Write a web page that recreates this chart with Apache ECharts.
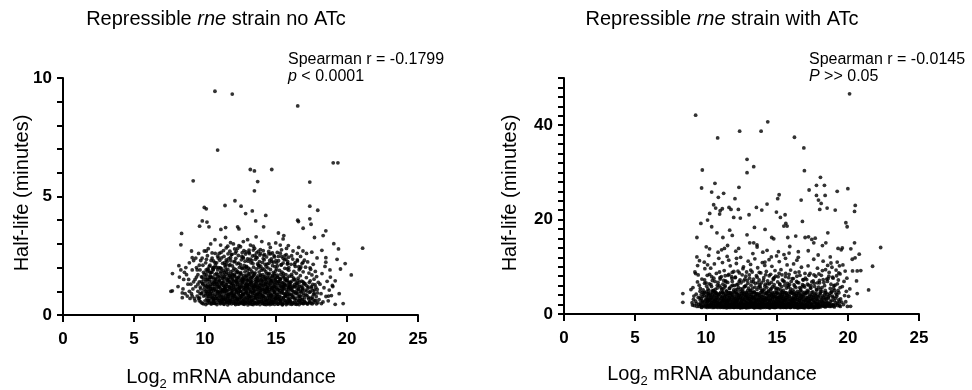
<!DOCTYPE html>
<html>
<head>
<meta charset="utf-8">
<script src="https://cdn.jsdelivr.net/npm/echarts@6/dist/echarts.min.js"></script>
<style>html,body{margin:0;padding:0;background:#fff}#c{width:972px;height:390px}</style>
</head>
<body>
<div id="c"></div>
<script>
// ---- Data: Log2 mRNA abundance (x) vs half-life in minutes (y) ----
const noAtcTitle = "Repressible rne strain no ATc";
const atcTitle = "Repressible rne strain with ATc";
const xTicks = [0, 5, 10, 15, 20, 25];
const noAtcYTicks = [0, 5, 10];
const atcYTicks = [0, 20, 40];
const noAtcStats = ["Spearman r = -0.1799", "p < 0.0001"];
const atcStats = ["Spearman r = -0.0145", "P >> 0.05"];

const noAtcCore = [
[8.1,1.2],[8.3,1.9],[8.5,1.5],[8.6,0.9],[8.7,1.7],[8.8,1.3],[8.9,2.2],[8.2,1.6],[8.45,1.1],[8.65,2.0],[8.75,0.8],[8.9,1.0],[8.55,1.8],[8.85,1.5],[8.95,0.7],
[9.0,1.3],[9.05,0.9],[9.1,1.9],[9.15,1.1],[9.2,2.3],[9.25,0.7],[9.3,1.5],[9.35,1.2],[9.4,2.0],[9.45,0.8],
[9.5,1.7],[9.5,1.0],[9.55,2.6],[9.6,1.4],[9.6,0.6],[9.65,1.9],[9.7,1.1],[9.7,2.3],[9.75,0.9],[9.8,1.6],
[9.8,0.5],[9.85,2.1],[9.85,1.3],[9.9,0.8],[9.9,1.8],[9.95,1.2],[9.95,2.7],[9.3,0.6],[9.4,1.6],[9.6,2.1],
[9.2,1.4],[9.45,1.9],[9.75,1.4],[9.55,0.7],[9.35,2.4],[9.65,0.9],[9.9,1.5],[9.1,0.8],[9.8,2.4],[9.5,1.3],
[10.0,0.6],[10.02,1.4],[10.05,2.2],[10.07,0.9],[10.1,1.7],[10.12,1.1],[10.15,0.5],[10.17,2.5],[10.2,1.3],[10.22,0.8],
[10.25,1.9],[10.27,1.0],[10.3,0.6],[10.32,1.5],[10.35,2.1],[10.37,0.7],[10.4,1.2],[10.42,1.8],[10.45,0.5],[10.47,1.4],
[10.5,2.4],[10.52,0.9],[10.55,1.6],[10.57,1.1],[10.6,0.6],[10.62,2.0],[10.65,1.3],[10.67,0.8],[10.7,1.7],[10.72,2.6],
[10.75,1.0],[10.77,0.5],[10.8,1.5],[10.82,2.2],[10.85,0.7],[10.87,1.2],[10.9,1.9],[10.92,0.9],[10.95,1.4],[10.97,0.6],
[10.03,1.0],[10.08,1.9],[10.13,0.7],[10.18,1.5],[10.23,2.8],[10.28,1.2],[10.33,0.9],[10.38,1.6],[10.43,2.3],[10.48,0.8],
[10.53,1.3],[10.58,1.9],[10.63,0.5],[10.68,1.1],[10.73,2.1],[10.78,1.4],[10.83,0.8],[10.88,1.7],[10.93,2.4],[10.98,1.0],
[10.04,1.6],[10.14,1.2],[10.24,0.6],[10.34,1.8],[10.44,1.0],[10.54,2.0],[10.64,1.5],[10.74,0.7],[10.84,1.3],[10.94,2.0],
[10.09,2.7],[10.19,0.9],[10.29,1.6],[10.39,1.1],[10.49,1.8],[10.59,0.7],[10.69,1.4],[10.79,2.0],[10.89,1.0],[10.99,1.6],
[11.01,0.62],[11.03,1.48],[11.04,2.31],[11.06,0.95],[11.08,1.77],[11.09,1.12],[11.11,0.51],[11.13,2.64],[11.14,1.33],[11.16,0.84],
[11.18,1.95],[11.19,1.06],[11.21,0.58],[11.23,1.56],[11.24,2.18],[11.26,0.73],[11.28,1.24],[11.29,1.86],[11.31,0.47],[11.33,1.41],
[11.34,2.47],[11.36,0.92],[11.38,1.63],[11.39,1.15],[11.41,0.66],[11.43,2.03],[11.44,1.29],[11.46,0.81],[11.48,1.72],[11.49,2.83],
[11.51,1.02],[11.53,0.54],[11.54,1.51],[11.56,2.26],[11.58,0.71],[11.59,1.21],[11.61,1.92],[11.63,0.88],[11.64,1.44],[11.66,0.61],
[11.68,2.38],[11.69,1.08],[11.71,0.49],[11.73,1.67],[11.74,1.17],[11.76,2.12],[11.78,0.77],[11.79,1.36],[11.81,1.83],[11.83,0.56],
[11.84,1.26],[11.86,2.55],[11.88,0.94],[11.89,1.59],[11.91,1.03],[11.93,2.07],[11.94,0.68],[11.96,1.47],[11.98,1.88],[11.99,0.83],
[11.02,1.19],[11.07,0.79],[11.12,1.64],[11.17,2.41],[11.22,0.99],[11.27,1.53],[11.32,0.64],[11.37,2.21],[11.42,1.11],[11.47,0.53],
[11.52,1.81],[11.57,1.37],[11.62,2.58],[11.67,0.86],[11.72,1.49],[11.77,0.59],[11.82,2.29],[11.87,1.14],[11.92,1.69],[11.97,0.74],
[11.05,1.99],[11.15,0.69],[11.25,1.38],[11.35,1.79],[11.45,1.01],[11.55,0.76],[11.65,1.58],[11.75,2.69],[11.85,0.91],[11.95,1.31],
[11.1,2.95],[11.3,1.07],[11.5,2.14],[11.7,0.63],[11.9,1.73],
[12.01,0.57],[12.03,1.42],[12.05,2.24],[12.06,0.89],[12.08,1.71],[12.1,1.09],[12.11,0.48],[12.13,2.61],[12.15,1.28],[12.16,0.79],
[12.18,1.91],[12.2,1.04],[12.21,0.55],[12.23,1.54],[12.25,2.16],[12.26,0.72],[12.28,1.22],[12.3,1.84],[12.31,0.46],[12.33,1.39],
[12.35,2.51],[12.36,0.93],[12.38,1.61],[12.4,1.13],[12.41,0.65],[12.43,2.01],[12.45,1.27],[12.46,0.82],[12.48,1.74],[12.5,2.88],
[12.51,1.01],[12.53,0.52],[12.55,1.49],[12.56,2.33],[12.58,0.7],[12.6,1.19],[12.61,1.96],[12.63,0.87],[12.65,1.43],[12.66,0.6],
[12.68,2.44],[12.7,1.06],[12.71,0.47],[12.73,1.66],[12.75,1.16],[12.76,2.09],[12.78,0.76],[12.8,1.34],[12.81,1.82],[12.83,0.54],
[12.85,1.25],[12.86,2.57],[12.88,0.96],[12.9,1.57],[12.91,1.02],[12.93,2.05],[12.95,0.67],[12.96,1.46],[12.98,1.87],[12.99,0.84],
[12.02,1.18],[12.07,0.78],[12.12,1.62],[12.17,2.39],[12.22,0.98],[12.27,1.52],[12.32,0.63],[12.37,2.19],[12.42,1.12],[12.47,0.51],
[12.52,1.79],[12.57,1.35],[12.62,2.63],[12.67,0.85],[12.72,1.48],[12.77,0.58],[12.82,2.27],[12.87,1.13],[12.92,1.68],[12.97,0.73],
[12.04,1.97],[12.14,0.68],[12.24,1.37],[12.34,1.78],[12.44,1.0],[12.54,0.75],[12.64,1.56],[12.74,2.72],[12.84,0.9],[12.94,1.3],
[12.09,2.79],[12.19,1.44],[12.29,0.66],[12.39,2.93],[12.49,1.16],[12.59,2.47],[12.69,0.88],[12.79,1.97],[12.89,2.66],[12.99,1.23],
[13.01,0.53],[13.02,1.45],[13.04,2.27],[13.06,0.91],[13.07,1.74],[13.09,1.1],[13.11,0.49],[13.12,2.59],[13.14,1.3],[13.16,0.8],
[13.17,1.93],[13.19,1.05],[13.21,0.56],[13.22,1.55],[13.24,2.2],[13.26,0.74],[13.27,1.23],[13.29,1.85],[13.31,0.45],[13.32,1.4],
[13.34,2.49],[13.36,0.94],[13.37,1.62],[13.39,1.14],[13.41,0.64],[13.42,2.02],[13.44,1.28],[13.46,0.83],[13.47,1.73],[13.49,2.81],
[13.51,1.0],[13.52,0.52],[13.54,1.5],[13.56,2.35],[13.57,0.71],[13.59,1.2],[13.61,1.94],[13.62,0.86],[13.64,1.42],[13.66,0.59],
[13.67,2.42],[13.69,1.07],[13.71,0.48],[13.72,1.65],[13.74,1.17],[13.76,2.1],[13.77,0.77],[13.79,1.35],[13.81,1.81],[13.82,0.55],
[13.84,1.24],[13.86,2.53],[13.87,0.97],[13.89,1.58],[13.91,1.03],[13.92,2.06],[13.94,0.66],[13.96,1.47],[13.97,1.89],[13.99,0.82],
[13.03,1.17],[13.08,0.76],[13.13,1.63],[13.18,2.36],[13.23,0.97],[13.28,1.51],[13.33,0.62],[13.38,2.17],[13.43,1.11],[13.48,0.5],
[13.53,1.78],[13.58,1.33],[13.63,2.62],[13.68,0.84],[13.73,1.47],[13.78,0.57],[13.83,2.25],[13.88,1.12],[13.93,1.67],[13.98,0.72],
[13.05,1.98],[13.15,0.69],[13.25,1.36],[13.35,1.77],[13.45,0.99],[13.55,0.74],[13.65,1.55],[13.75,2.68],[13.85,0.89],[13.95,1.29],
[13.1,2.74],[13.2,1.41],[13.3,0.6],[13.4,2.9],[13.5,1.21],[13.6,2.44],[13.7,0.9],[13.8,2.0],[13.9,2.6],[13.0,1.25],
[14.01,0.55],[14.03,1.43],[14.04,2.22],[14.06,0.9],[14.08,1.7],[14.09,1.08],[14.11,0.47],[14.13,2.52],[14.14,1.27],[14.16,0.78],
[14.18,1.9],[14.19,1.03],[14.21,0.54],[14.23,1.53],[14.24,2.14],[14.26,0.73],[14.28,1.21],[14.29,1.83],[14.31,0.44],[14.33,1.38],
[14.34,2.45],[14.36,0.92],[14.38,1.6],[14.39,1.12],[14.41,0.63],[14.43,1.99],[14.44,1.26],[14.46,0.81],[14.48,1.72],[14.49,2.68],
[14.51,0.98],[14.53,0.5],[14.54,1.48],[14.56,2.3],[14.58,0.69],[14.59,1.18],[14.61,1.92],[14.63,0.85],[14.64,1.41],[14.66,0.58],
[14.68,2.37],[14.69,1.05],[14.71,0.46],[14.73,1.64],[14.74,1.15],[14.76,2.08],[14.78,0.75],[14.79,1.33],[14.81,1.8],[14.83,0.53],
[14.84,1.22],[14.86,2.5],[14.88,0.95],[14.89,1.56],[14.91,1.01],[14.93,2.04],[14.94,0.65],[14.96,1.45],[14.98,1.86],[14.99,0.8],
[14.02,1.16],[14.07,0.77],[14.12,1.61],[14.17,2.33],[14.22,0.96],[14.27,1.5],[14.32,0.61],[14.37,2.15],[14.42,1.1],[14.47,0.49],
[14.52,1.76],[14.57,1.32],[14.62,2.58],[14.67,0.83],[14.72,1.46],[14.77,0.56],[14.82,2.23],[14.87,1.11],[14.92,1.66],[14.97,0.71],
[14.05,1.96],[14.15,0.68],[14.25,1.34],[14.35,1.75],[14.45,0.98],[14.55,0.73],[14.65,1.54],[14.75,2.62],[14.85,0.88],[14.95,1.28],
[14.1,2.71],[14.3,1.09],[14.5,2.18],[14.7,0.62],[14.9,1.74],
[15.0,0.58],[15.03,1.4],[15.05,2.2],[15.07,0.88],[15.1,1.68],[15.12,1.07],[15.15,0.46],[15.17,2.47],[15.2,1.25],[15.22,0.77],
[15.25,1.88],[15.27,1.02],[15.3,0.52],[15.32,1.51],[15.35,2.11],[15.37,0.72],[15.4,1.2],[15.42,1.81],[15.45,0.43],[15.47,1.36],
[15.5,2.39],[15.52,0.91],[15.55,1.58],[15.57,1.11],[15.6,0.62],[15.62,1.97],[15.65,1.24],[15.67,0.8],[15.7,1.7],[15.72,2.55],
[15.75,0.97],[15.77,0.49],[15.8,1.46],[15.82,2.26],[15.85,0.68],[15.87,1.17],[15.9,1.89],[15.92,0.84],[15.95,1.39],[15.97,0.57],
[15.02,1.14],[15.08,0.75],[15.13,1.59],[15.18,2.29],[15.23,0.95],[15.28,1.49],[15.33,0.6],[15.38,2.12],[15.43,1.09],[15.48,0.48],
[15.53,1.74],[15.58,1.31],[15.63,2.5],[15.68,0.82],[15.73,1.44],[15.78,0.55],[15.83,2.18],[15.88,1.1],[15.93,1.64],[15.98,0.7],
[15.04,1.94],[15.14,0.67],[15.24,1.33],[15.34,1.72],[15.44,0.97],[15.54,0.72],[15.64,1.52],[15.74,2.81],[15.84,0.87],[15.94,1.27],
[15.09,2.64],[15.19,1.42],[15.29,0.64],[15.39,2.75],[15.49,1.19],[15.59,2.33],[15.69,0.89],[15.79,1.95],[15.89,2.44],[15.99,1.21],
[16.01,0.55],[16.03,1.37],[16.06,2.14],[16.08,0.86],[16.11,1.63],[16.13,1.04],[16.16,0.47],[16.18,2.36],[16.21,1.22],[16.23,0.76],
[16.26,1.84],[16.28,0.99],[16.31,0.53],[16.33,1.48],[16.36,2.05],[16.38,0.71],[16.41,1.18],[16.43,1.76],[16.46,0.45],[16.48,1.33],
[16.51,2.28],[16.53,0.9],[16.56,1.55],[16.58,1.08],[16.61,0.61],[16.63,1.91],[16.66,1.21],[16.68,0.79],[16.71,1.66],[16.73,2.47],
[16.76,0.95],[16.78,0.5],[16.81,1.43],[16.83,2.17],[16.86,0.67],[16.88,1.15],[16.91,1.82],[16.93,0.83],[16.96,1.35],[16.98,0.56],
[16.05,1.12],[16.15,0.74],[16.25,1.56],[16.35,2.21],[16.45,0.93],[16.55,1.45],[16.65,0.59],[16.75,2.03],[16.85,1.06],[16.95,0.48],
[16.1,1.71],[16.3,1.28],[16.5,2.6],[16.7,0.81],[16.9,1.4],
[17.02,0.57],[17.05,1.32],[17.08,2.02],[17.11,0.85],[17.14,1.58],[17.17,1.01],[17.2,0.49],[17.23,2.24],[17.26,1.19],[17.29,0.74],
[17.32,1.77],[17.35,0.96],[17.38,0.54],[17.41,1.44],[17.44,1.93],[17.47,0.7],[17.5,1.14],[17.53,1.69],[17.56,0.47],[17.59,1.29],
[17.62,2.14],[17.65,0.88],[17.68,1.51],[17.71,1.05],[17.74,0.6],[17.77,1.84],[17.8,1.17],[17.83,0.78],[17.86,1.62],[17.89,2.41],
[17.92,0.93],[17.95,0.52],[17.98,1.38],[17.15,2.6],[17.6,0.66],
[18.03,0.65],[18.1,1.3],[18.17,0.9],[18.24,1.75],[18.31,0.55],[18.38,1.15],[18.45,2.05],[18.52,0.78],[18.6,1.42],[18.68,0.6],
[18.75,1.05],[18.83,1.6],[18.9,0.82],[18.97,1.25],[18.2,0.48]
];

const noAtcDense = [
[9.62,0.72],[9.66,1.18],[9.71,0.55],[9.75,1.61],[9.79,0.94],[9.83,1.33],[9.88,0.47],[9.92,1.07],[9.96,1.72],[10.01,0.83],[10.04,1.25],[10.06,0.44],
[10.1,1.49],[10.13,0.98],[10.16,1.84],[10.19,0.62],[10.22,1.16],[10.25,0.79],[10.28,1.41],[10.31,0.51],[10.34,1.05],[10.36,1.67],[10.39,0.88],[10.41,1.29],
[10.44,0.46],[10.46,1.58],[10.49,0.74],[10.51,1.12],[10.54,0.57],[10.56,1.93],[10.59,1.02],[10.61,0.66],[10.64,1.37],[10.66,0.49],[10.69,1.21],[10.71,0.86],
[10.74,1.54],[10.76,0.61],[10.79,1.08],[10.81,1.76],[10.84,0.44],[10.86,1.31],[10.89,0.93],[10.91,1.62],[10.94,0.71],[10.96,1.17],[10.99,0.52],[11.02,1.44],
[11.04,0.83],[11.07,1.27],[11.09,0.47],[11.12,1.83],[11.15,0.97],[11.17,0.65],
[11.2,1.35],[11.22,0.55],[11.25,1.06],[11.27,1.69],[11.3,0.77],[11.32,1.22],[11.35,0.45],[11.37,0.99],[11.4,1.57],[11.42,0.68],[11.45,1.14],[11.47,1.9],
[11.5,0.58],[11.52,1.28],[11.55,0.89],[11.57,1.47],[11.6,0.43],[11.62,1.03],[11.65,1.73],[11.67,0.76],[11.7,1.19],[11.72,0.53],[11.75,1.39],[11.77,0.91],
[11.8,1.61],[11.82,0.64],[11.85,1.1],[11.87,0.47],[11.9,1.33],[11.92,0.82],[11.95,1.52],[11.97,1.01],
[12.0,0.5],[12.02,1.24],[12.05,0.85],[12.07,1.66],[12.1,0.6],[12.12,1.13],[12.15,0.44],[12.17,1.42],[12.2,0.95],[12.22,1.8],[12.25,0.69],[12.27,1.07],
[12.3,0.52],[12.32,1.3],[12.35,0.88],[12.37,1.59],[12.4,0.46],[12.42,1.17],[12.45,0.74],[12.47,1.45],[12.5,1.0],[12.52,0.56],[12.55,1.7],[12.57,0.81],
[12.6,1.23],[12.62,0.48],[12.65,1.36],[12.67,0.92],[12.7,1.55],[12.72,0.63],[12.75,1.09],[12.77,0.45],
[12.8,1.48],[12.82,0.71],[12.85,1.2],[12.87,0.5],[12.9,1.63],[12.92,0.97],[12.95,1.32],[12.97,0.59],[13.0,1.11],[13.02,0.43],[13.05,1.5],[13.07,0.84],
[13.1,1.27],[13.12,0.62],[13.15,1.74],[13.17,0.99],[13.2,0.47],[13.22,1.38],[13.25,0.79],[13.27,1.15],[13.3,0.55],[13.32,1.6],[13.35,0.9],[13.37,1.26],
[13.4,0.44],[13.42,1.04],[13.45,1.67],[13.47,0.73],[13.5,1.19],[13.52,0.51],[13.55,1.42],[13.57,0.86],
[13.6,1.3],[13.62,0.46],[13.65,1.08],[13.67,1.57],[13.7,0.68],[13.72,1.22],[13.75,0.53],[13.77,0.95],[13.8,1.46],[13.82,0.74],[13.85,1.14],[13.87,0.44],
[13.9,1.69],[13.92,0.87],[13.95,1.34],[13.97,0.58],[14.0,1.03],[14.02,1.52],[14.05,0.49],[14.07,1.25],[14.1,0.8],[14.12,1.41],[14.15,0.61],[14.17,1.1],
[14.2,0.45],[14.22,1.62],[14.25,0.93],[14.27,1.29],[14.3,0.56],[14.32,1.0],[14.35,1.49],[14.37,0.7],
[14.4,1.18],[14.42,0.47],[14.45,1.36],[14.47,0.83],[14.5,1.58],[14.52,0.6],[14.55,1.07],[14.57,0.44],[14.6,1.27],[14.62,0.9],[14.65,1.45],[14.67,0.55],
[14.7,1.13],[14.72,0.76],[14.75,1.66],[14.77,0.5],[14.8,1.02],[14.82,1.39],[14.85,0.64],[14.87,1.21],[14.9,0.45],[14.92,0.97],[14.95,1.51],[14.97,0.72],
[15.0,1.16],[15.02,0.52],[15.05,1.33],[15.07,0.86],[15.1,1.6],[15.12,0.46],[15.15,1.06],[15.17,0.68],
[15.2,1.4],[15.22,0.57],[15.25,1.12],[15.27,0.8],[15.3,1.54],[15.32,0.48],[15.35,1.23],[15.37,0.93],[15.4,0.62],[15.42,1.35],[15.45,0.45],[15.47,1.05],
[15.5,1.64],[15.52,0.73],[15.55,1.19],[15.57,0.51],[15.6,1.3],[15.62,0.87],[15.65,1.47],[15.67,0.6],[15.7,1.09],[15.72,0.44],[15.75,1.26],[15.77,0.78],
[15.8,1.56],[15.82,0.54],[15.85,1.0],[15.87,1.36],[15.9,0.66],[15.92,1.15],[15.95,0.47],[15.97,0.89],
[16.0,1.28],[16.03,0.58],[16.06,1.06],[16.09,0.45],[16.12,1.43],[16.15,0.82],[16.18,1.16],[16.21,0.52],[16.24,0.96],[16.27,1.5],[16.3,0.67],[16.33,1.2],
[16.36,0.46],[16.39,0.9],[16.42,1.35],[16.45,0.61],[16.48,1.04],[16.51,0.5],[16.54,1.27],[16.57,0.77],[16.6,1.12],[16.63,0.44],[16.66,1.39],[16.69,0.7],
[16.72,1.0],[16.75,0.54],[16.78,1.22],
[16.82,0.64],[16.86,1.1],[16.9,0.48],[16.94,0.93],[16.98,1.3],[17.02,0.72],[17.06,1.05],[17.1,0.51],[17.14,1.24],[17.18,0.83],[17.22,0.46],[17.26,1.13],
[17.3,0.68],[17.34,1.37],[17.38,0.57],[17.42,0.98],[17.46,0.49],[17.5,1.2],[17.55,0.76],[17.6,1.03],[17.65,0.53],[17.7,0.9],[17.75,1.28],[17.8,0.62],
[17.85,0.47],[17.9,1.08]
];

const noAtcUpper = [
[10.1,2.35],[10.3,2.05],[10.5,2.62],[10.7,2.21],[10.9,2.48],[11.1,1.98],[11.3,2.72],[11.5,2.32],[11.7,2.08],[11.9,2.56],[12.1,2.27],[12.3,2.81],
[12.5,2.12],[12.7,2.4],[12.9,2.02],[13.1,2.65],[13.3,2.3],[13.5,2.52],[13.7,2.16],[13.9,2.76],[14.1,2.38],[14.3,2.04],[14.5,2.58],[14.7,2.25],
[14.9,2.45],[15.1,2.07],[15.3,2.61],[15.5,2.19],[15.7,2.36],[15.9,2.0],[16.1,2.5],[16.3,2.13],[16.5,2.33],[16.7,1.96],[16.9,2.22],
[10.2,1.95],[10.6,2.28],[11.0,2.6],[11.4,2.11],[11.8,2.43],[12.2,2.69],[12.6,1.99],[13.0,2.37],[13.4,2.74],[13.8,2.09],[14.2,2.55],[14.6,2.85],
[15.0,2.29],[15.4,2.47],[15.8,2.15],[16.2,2.7],[16.6,2.04],[17.0,2.31],[17.4,1.99],[12.0,3.0],[13.2,2.95],[14.0,3.1],[11.6,2.9]
];

const noAtcOutliers = [
[10.70,9.44],[11.92,9.32],[16.53,8.82],[10.89,6.96],[19.03,6.42],[19.36,6.42],[13.19,6.14],[13.48,6.08],[14.70,6.14],[9.17,5.66],
[13.71,5.63],[13.48,5.24],[17.38,5.61],[12.11,4.82],[11.41,4.62],[9.95,4.54],[10.09,4.48],[12.54,4.59],[12.86,4.28],[13.33,4.39],
[14.28,4.20],[13.57,3.97],[17.38,4.59],[17.94,4.42],[17.38,4.06],[17.47,3.83],[16.53,4.00],[16.58,3.94],[16.91,3.66],[9.81,3.97],
[10.14,3.92],[10.28,3.72],[9.62,3.75],[8.35,3.44],[8.30,2.96],[11.12,3.61],[11.45,3.69],[12.30,3.72],[12.39,3.63],[14.13,3.72],
[15.17,3.46],[15.55,3.35],[17.71,3.27],[18.32,3.35],[18.51,3.55],[19.07,3.01],[19.40,2.79],[21.10,2.82],[19.87,2.17],[19.54,1.94],
[20.30,1.69],[19.17,1.44],[19.45,0.90],[19.73,0.48],[19.17,0.45],[18.51,2.42],[18.51,2.23],[18.23,2.73],[17.52,2.65],[10.70,3.18],
[11.45,3.27],[13.00,3.18],[15.87,2.93],[15.50,3.21],[14.98,3.04],[7.60,1.00],[7.70,1.02],[7.71,1.75],[8.16,2.08],[8.40,0.93],
[8.40,0.73],[9.10,2.42],[9.05,2.70],[16.6,2.85],[16.9,2.7],[12.7,3.1],[13.6,3.3],[14.5,3.0],[10.4,3.0],[11.8,3.05],
[15.3,2.95],[18.8,1.9],[19.0,1.2],[18.7,0.8],[19.3,2.35]
];

const atcCore = [
[9.02,2.4],[9.08,5.6],[9.12,3.1],[9.18,1.8],[9.22,8.9],[9.27,2.7],[9.31,4.2],[9.36,1.6],[9.4,6.8],[9.45,3.5],
[9.5,2.1],[9.54,11.3],[9.58,4.8],[9.63,1.9],[9.67,3.3],[9.71,7.4],[9.75,2.5],[9.8,5.1],[9.84,1.7],[9.88,3.9],
[9.92,9.6],[9.96,2.8],[9.15,3.8],[9.33,2.2],[9.52,6.1],[9.69,1.5],[9.85,4.4],[9.05,1.9],[9.6,2.9],[9.9,6.5],
[10.01,2.2],[10.03,4.7],[10.05,1.6],[10.07,3.4],[10.09,8.2],[10.11,2.6],[10.13,5.3],[10.15,1.9],[10.17,3.9],[10.19,12.4],
[10.21,2.9],[10.23,6.4],[10.25,1.5],[10.27,3.1],[10.29,4.4],[10.31,2.1],[10.33,9.7],[10.35,3.6],[10.37,1.7],[10.39,5.8],
[10.41,2.5],[10.43,4.1],[10.45,7.1],[10.47,1.8],[10.49,3.3],[10.51,2.3],[10.53,5.0],[10.55,1.4],[10.57,3.8],[10.59,10.6],
[10.61,2.7],[10.63,6.9],[10.65,1.6],[10.67,4.5],[10.69,3.0],[10.71,2.0],[10.73,8.6],[10.75,3.5],[10.77,1.5],[10.79,5.5],
[10.81,2.4],[10.83,4.0],[10.85,13.1],[10.87,1.9],[10.89,3.2],[10.91,2.2],[10.93,6.0],[10.95,1.7],[10.97,4.3],[10.99,7.7],
[10.1,3.0],[10.3,1.8],[10.5,4.9],[10.7,2.6],[10.9,11.8],
[11.01,2.0],[11.03,4.6],[11.04,1.5],[11.06,3.3],[11.08,7.9],[11.09,2.5],[11.11,5.2],[11.13,1.8],[11.14,3.7],[11.16,10.9],
[11.18,2.8],[11.19,6.3],[11.21,1.4],[11.23,3.0],[11.24,4.3],[11.26,2.1],[11.28,9.2],[11.29,3.5],[11.31,1.6],[11.33,5.7],
[11.34,2.4],[11.36,4.0],[11.38,7.0],[11.39,1.7],[11.41,3.2],[11.43,2.2],[11.44,4.9],[11.46,1.3],[11.48,3.7],[11.49,12.2],
[11.51,2.6],[11.53,6.7],[11.54,1.5],[11.56,4.4],[11.58,2.9],[11.59,1.9],[11.61,8.4],[11.63,3.4],[11.64,1.4],[11.66,5.4],
[11.68,2.3],[11.69,3.9],[11.71,10.2],[11.73,1.8],[11.74,3.1],[11.76,2.1],[11.78,5.9],[11.79,1.6],[11.81,4.2],[11.83,7.5],
[11.84,2.7],[11.86,1.5],[11.88,3.6],[11.89,6.1],[11.91,2.0],[11.93,4.7],[11.94,1.4],[11.96,9.0],[11.98,3.0],[11.99,2.4],
[11.1,13.6],[11.35,8.1],[11.6,11.4],[11.85,8.8],[11.45,2.8],
[12.01,1.9],[12.02,4.5],[12.04,1.5],[12.05,3.2],[12.07,7.8],[12.08,2.4],[12.1,5.1],[12.11,1.7],[12.13,3.6],[12.14,10.7],
[12.16,2.7],[12.17,6.2],[12.19,1.4],[12.2,2.9],[12.22,4.2],[12.23,2.0],[12.25,9.1],[12.26,3.4],[12.28,1.5],[12.29,5.6],
[12.31,2.3],[12.32,3.9],[12.34,6.9],[12.35,1.6],[12.37,3.1],[12.38,2.1],[12.4,4.8],[12.41,1.3],[12.43,3.6],[12.44,12.0],
[12.46,2.5],[12.47,6.6],[12.49,1.4],[12.5,4.3],[12.52,2.8],[12.53,1.8],[12.55,8.3],[12.56,3.3],[12.58,1.4],[12.59,5.3],
[12.61,2.2],[12.62,3.8],[12.64,10.0],[12.65,1.7],[12.67,3.0],[12.68,2.0],[12.7,5.8],[12.71,1.5],[12.73,4.1],[12.74,7.4],
[12.76,2.6],[12.77,1.4],[12.79,3.5],[12.8,6.0],[12.82,1.9],[12.83,4.6],[12.85,1.3],[12.86,8.9],[12.88,2.9],[12.89,2.3],
[12.91,3.7],[12.92,1.6],[12.94,5.0],[12.95,2.2],[12.97,11.2],[12.98,3.1],[12.3,13.9],[12.6,9.6],[12.9,7.1],[12.15,11.8],
[13.01,2.0],[13.02,4.4],[13.04,1.4],[13.05,3.3],[13.07,7.6],[13.08,2.5],[13.1,5.0],[13.11,1.8],[13.13,3.7],[13.14,10.5],
[13.16,2.6],[13.17,6.1],[13.19,1.5],[13.2,3.0],[13.22,4.1],[13.23,2.1],[13.25,8.9],[13.26,3.5],[13.28,1.6],[13.29,5.5],
[13.31,2.4],[13.32,3.8],[13.34,6.8],[13.35,1.5],[13.37,3.2],[13.38,2.2],[13.4,4.7],[13.41,1.3],[13.43,3.5],[13.44,11.7],
[13.46,2.4],[13.47,6.5],[13.49,1.5],[13.5,4.2],[13.52,2.7],[13.53,1.9],[13.55,8.1],[13.56,3.2],[13.58,1.4],[13.59,5.2],
[13.61,2.3],[13.62,3.9],[13.64,9.8],[13.65,1.6],[13.67,3.1],[13.68,2.0],[13.7,5.7],[13.71,1.4],[13.73,4.0],[13.74,7.2],
[13.76,2.7],[13.77,1.5],[13.79,3.4],[13.8,5.9],[13.82,2.0],[13.83,4.5],[13.85,1.3],[13.86,8.7],[13.88,2.8],[13.89,2.2],
[13.91,3.6],[13.92,1.7],[13.94,4.9],[13.95,2.3],[13.97,10.9],[13.98,3.0],[13.3,12.8],[13.6,14.2],[13.9,6.6],[13.15,9.3],
[14.01,1.9],[14.02,4.6],[14.04,1.5],[14.05,3.1],[14.07,7.7],[14.08,2.4],[14.1,5.2],[14.11,1.7],[14.13,3.5],[14.14,10.3],
[14.16,2.8],[14.17,6.3],[14.19,1.4],[14.2,2.9],[14.22,4.3],[14.23,2.0],[14.25,9.0],[14.26,3.3],[14.28,1.5],[14.29,5.6],
[14.31,2.2],[14.32,4.0],[14.34,7.0],[14.35,1.6],[14.37,3.0],[14.38,2.1],[14.4,4.8],[14.41,1.4],[14.43,3.7],[14.44,11.5],
[14.46,2.5],[14.47,6.4],[14.49,1.3],[14.5,4.4],[14.52,2.9],[14.53,1.8],[14.55,8.4],[14.56,3.4],[14.58,1.5],[14.59,5.4],
[14.61,2.3],[14.62,3.8],[14.64,10.1],[14.65,1.7],[14.67,3.2],[14.68,2.1],[14.7,5.8],[14.71,1.5],[14.73,4.2],[14.74,7.5],
[14.76,2.6],[14.77,1.4],[14.79,3.6],[14.8,6.2],[14.82,1.9],[14.83,4.6],[14.85,1.4],[14.86,9.2],[14.88,2.8],[14.89,2.4],
[14.91,3.7],[14.92,1.6],[14.94,5.1],[14.95,2.1],[14.97,12.3],[14.98,3.2],[14.3,13.5],[14.6,12.1],[14.9,8.0],[14.15,11.0],
[15.01,2.1],[15.03,4.5],[15.04,1.5],[15.06,3.4],[15.08,7.9],[15.09,2.6],[15.11,5.3],[15.13,1.8],[15.14,3.8],[15.16,11.1],
[15.18,2.7],[15.19,6.4],[15.21,1.4],[15.23,3.0],[15.24,4.4],[15.26,2.0],[15.28,9.4],[15.29,3.6],[15.31,1.6],[15.33,5.8],
[15.34,2.4],[15.36,4.1],[15.38,7.2],[15.39,1.6],[15.41,3.3],[15.43,2.2],[15.44,5.0],[15.46,1.4],[15.48,3.7],[15.49,12.6],
[15.51,2.6],[15.53,6.8],[15.54,1.5],[15.56,4.5],[15.58,3.0],[15.59,1.9],[15.61,8.6],[15.63,3.5],[15.64,1.4],[15.66,5.5],
[15.68,2.3],[15.69,4.0],[15.71,10.4],[15.73,1.8],[15.74,3.1],[15.76,2.1],[15.78,6.0],[15.79,1.6],[15.81,4.3],[15.83,7.7],
[15.84,2.7],[15.86,1.5],[15.88,3.7],[15.89,6.2],[15.91,2.0],[15.93,4.8],[15.94,1.4],[15.96,9.3],[15.98,3.1],[15.99,2.5],
[15.1,13.2],[15.35,8.3],[15.6,11.8],[15.85,12.9],[15.45,2.9],
[16.01,2.0],[16.03,4.4],[16.05,1.5],[16.06,3.2],[16.08,7.5],[16.1,2.5],[16.12,5.1],[16.13,1.7],[16.15,3.6],[16.17,10.6],
[16.18,2.7],[16.2,6.2],[16.22,1.4],[16.23,2.9],[16.25,4.2],[16.27,2.0],[16.28,8.8],[16.3,3.4],[16.32,1.5],[16.33,5.6],
[16.35,2.3],[16.37,3.9],[16.38,6.9],[16.4,1.6],[16.42,3.1],[16.43,2.1],[16.45,4.8],[16.47,1.3],[16.48,3.6],[16.5,12.0],
[16.52,2.5],[16.53,6.6],[16.55,1.4],[16.57,4.3],[16.58,2.8],[16.6,1.8],[16.62,8.2],[16.63,3.3],[16.65,1.4],[16.67,5.3],
[16.68,2.2],[16.7,3.8],[16.72,9.9],[16.73,1.7],[16.75,3.0],[16.77,2.0],[16.78,5.8],[16.8,1.5],[16.82,4.1],[16.83,7.3],
[16.85,2.6],[16.87,1.4],[16.88,3.5],[16.9,6.0],[16.92,1.9],[16.93,4.6],[16.95,1.3],[16.97,8.6],[16.98,2.9],[16.4,11.4],
[17.01,1.9],[17.03,4.3],[17.05,1.5],[17.07,3.1],[17.09,7.3],[17.11,2.4],[17.13,5.0],[17.15,1.7],[17.17,3.5],[17.19,10.2],
[17.21,2.6],[17.23,6.1],[17.25,1.4],[17.27,2.8],[17.29,4.1],[17.31,2.0],[17.33,8.6],[17.35,3.3],[17.37,1.5],[17.39,5.5],
[17.41,2.2],[17.43,3.8],[17.45,6.8],[17.47,1.6],[17.49,3.0],[17.51,2.1],[17.53,4.7],[17.55,1.3],[17.57,3.5],[17.59,11.6],
[17.61,2.4],[17.63,6.5],[17.65,1.4],[17.67,4.2],[17.69,2.7],[17.71,1.8],[17.73,8.0],[17.75,3.2],[17.77,1.4],[17.79,5.2],
[17.81,2.2],[17.83,3.7],[17.85,9.7],[17.87,1.7],[17.89,2.9],[17.91,2.0],[17.93,5.7],[17.95,1.5],[17.97,4.0],[17.99,7.1],
[18.02,2.3],[18.05,4.6],[18.07,1.5],[18.1,3.4],[18.12,8.2],[18.15,2.7],[18.17,5.6],[18.2,1.8],[18.22,3.8],[18.25,11.2],
[18.27,2.5],[18.3,6.7],[18.32,1.6],[18.35,3.1],[18.37,4.5],[18.4,2.1],[18.42,9.4],[18.45,3.6],[18.47,1.7],[18.5,7.4],
[18.52,2.4],[18.55,4.2],[18.57,10.3],[18.6,1.9],[18.62,3.3],[18.65,2.2],[18.67,8.8],[18.7,1.6],[18.72,3.9],[18.75,12.1],
[18.77,2.6],[18.8,6.3],[18.82,1.8],[18.85,4.8],[18.87,9.9],[18.9,2.0],[18.92,7.8],[18.95,3.5],[18.97,1.7],[18.99,5.4],
[19.04,2.8],[19.08,6.1],[19.12,1.9],[19.16,9.3],[19.2,3.7],[19.24,11.0],[19.28,2.3],[19.32,7.2],[19.36,4.5],[19.4,1.8],
[19.44,8.5],[19.48,3.2],[19.52,13.6],[19.56,2.5],[19.6,5.8],[19.64,10.4],[19.68,2.0],[19.72,6.9],[19.76,3.9],[19.8,9.1],
[19.84,2.6],[19.88,4.8],[19.92,7.6],[19.96,1.6],[19.3,5.0]
];

const atcDense = [
[9.52,1.6],[9.57,3.4],[9.62,2.2],[9.66,4.1],[9.7,1.4],[9.74,2.8],[9.78,3.7],[9.82,1.9],[9.86,2.5],[9.9,4.6],[9.94,1.5],[9.98,3.1],[10.02,2.0],[10.05,3.8],
[10.08,1.4],[10.11,2.7],[10.14,4.3],[10.17,1.7],[10.2,3.3],[10.23,2.3],[10.26,1.5],[10.29,4.0],[10.32,2.9],[10.35,1.8],[10.38,3.5],[10.41,2.4],[10.44,1.4],[10.47,4.5],
[10.5,3.0],[10.53,1.9],[10.56,2.6],[10.59,3.9],[10.62,1.5],[10.65,3.2],[10.68,2.1],[10.71,4.4],[10.74,1.7],[10.77,2.8],[10.8,3.6],[10.83,1.4],[10.86,2.3],[10.89,4.1],
[10.92,1.8],[10.95,3.0],[10.98,2.5],[11.01,1.4],[11.04,3.8],[11.07,2.2],[11.1,1.6],[11.13,3.4],[11.16,2.7],[11.19,4.6],[11.22,1.5],[11.25,2.9],[11.28,2.0],[11.31,3.7],
[11.34,1.4],[11.37,2.5],[11.4,4.2],[11.43,1.8],[11.46,3.1],
[11.5,2.3],[11.53,1.5],[11.56,3.9],[11.59,2.6],[11.62,1.7],[11.65,3.3],[11.68,2.0],[11.71,4.5],[11.74,1.4],[11.77,2.8],[11.8,3.6],[11.83,1.9],[11.86,2.4],[11.89,4.0],
[11.92,1.5],[11.95,3.2],[11.98,2.1],[12.01,1.4],[12.04,3.7],[12.07,2.7],[12.1,1.6],[12.13,4.3],[12.16,2.2],[12.19,3.0],[12.22,1.5],[12.25,2.5],[12.28,3.5],[12.31,1.8],
[12.34,4.1],[12.37,2.0],[12.4,1.4],[12.43,3.3],[12.46,2.6],
[12.49,1.6],[12.52,3.9],[12.55,2.3],[12.58,1.4],[12.61,3.1],[12.64,2.0],[12.67,4.4],[12.7,1.7],[12.73,2.8],[12.76,3.6],[12.79,1.5],[12.82,2.4],[12.85,4.0],[12.88,1.9],
[12.91,3.3],[12.94,2.2],[12.97,1.4],[13.0,3.7],[13.03,2.6],[13.06,1.6],[13.09,4.2],[13.12,2.1],[13.15,3.0],[13.18,1.5],[13.21,2.5],[13.24,3.5],[13.27,1.8],[13.3,4.6],
[13.33,2.0],[13.36,1.4],[13.39,3.2],[13.42,2.7],[13.45,1.7],
[13.48,3.8],[13.51,2.3],[13.54,1.5],[13.57,3.0],[13.6,2.1],[13.63,4.3],[13.66,1.6],[13.69,2.8],[13.72,3.5],[13.75,1.4],[13.78,2.4],[13.81,4.1],[13.84,1.9],[13.87,3.2],
[13.9,2.2],[13.93,1.5],[13.96,3.7],[13.99,2.6],[14.02,1.4],[14.05,4.0],[14.08,2.0],[14.11,3.1],[14.14,1.7],[14.17,2.5],[14.2,3.4],[14.23,1.8],[14.26,4.5],[14.29,2.1],
[14.32,1.5],[14.35,3.3],[14.38,2.7],[14.41,1.6],[14.44,3.9],
[14.47,2.3],[14.5,1.4],[14.53,3.0],[14.56,2.0],[14.59,4.2],[14.62,1.6],[14.65,2.8],[14.68,3.6],[14.71,1.5],[14.74,2.4],[14.77,4.0],[14.8,1.9],[14.83,3.2],[14.86,2.1],
[14.89,1.4],[14.92,3.7],[14.95,2.6],[14.98,1.5],[15.01,4.4],[15.04,2.0],[15.07,3.1],[15.1,1.7],[15.13,2.5],[15.16,3.5],[15.19,1.8],[15.22,4.1],[15.25,2.2],[15.28,1.4],
[15.31,3.3],[15.34,2.7],[15.37,1.6],[15.4,3.8],[15.43,2.3],
[15.46,1.5],[15.49,3.0],[15.52,2.0],[15.55,4.3],[15.58,1.6],[15.61,2.8],[15.64,3.5],[15.67,1.4],[15.7,2.4],[15.73,4.0],[15.76,1.9],[15.79,3.2],[15.82,2.2],[15.85,1.5],
[15.88,3.7],[15.91,2.6],[15.94,1.4],[15.97,4.5],[16.0,2.1],[16.03,3.0],[16.06,1.7],[16.09,2.5],[16.12,3.4],[16.15,1.8],[16.18,4.2],[16.21,2.3],[16.24,1.5],[16.27,3.3],
[16.3,2.7],[16.33,1.6],[16.36,3.9],[16.39,2.2],[16.42,1.4],
[16.45,3.1],[16.48,2.0],[16.51,4.4],[16.54,1.6],[16.57,2.8],[16.6,3.6],[16.63,1.5],[16.66,2.4],[16.69,4.0],[16.72,1.9],[16.75,3.2],[16.78,2.1],[16.81,1.4],[16.84,3.7],
[16.87,2.6],[16.9,1.5],[16.93,4.2],[16.96,2.0],[16.99,3.0],[17.02,1.7],[17.05,2.5],[17.08,3.5],[17.11,1.8],[17.14,4.6],[17.17,2.2],[17.2,1.4],[17.23,3.3],[17.26,2.7],
[17.29,1.6],[17.32,3.8],[17.35,2.3],[17.38,1.5],[17.41,3.0],
[17.45,2.0],[17.49,4.1],[17.53,1.6],[17.57,2.8],[17.61,3.5],[17.65,1.5],[17.69,2.4],[17.73,3.9],[17.77,1.9],[17.81,3.1],[17.85,2.2],[17.89,1.4],[17.93,3.6],[17.97,2.6],
[18.01,1.6],[18.05,4.3],[18.09,2.1],[18.13,3.0],[18.17,1.8],[18.21,2.5],[18.25,3.4],[18.29,1.7],[18.33,4.0],[18.37,2.3],[18.41,1.5],[18.45,3.2],
[18.5,2.7],[18.56,1.7],[18.62,3.6],[18.68,2.2],[18.74,4.4],[18.8,1.6],[18.86,2.9],[18.92,3.8],[18.98,2.0],[19.04,1.5],[19.1,3.3],[19.16,2.4],[19.22,4.1],[19.28,1.8],
[19.34,3.0],[19.4,2.6],[19.46,1.6]
];

const atcMid = [
[9.6,5.4],[9.75,4.6],[9.9,7.2],[10.05,5.9],[10.15,4.3],[10.25,8.4],[10.35,6.2],[10.45,4.9],[10.55,7.6],[10.65,5.2],[10.75,4.4],[10.85,6.7],
[10.95,8.9],[11.05,5.6],[11.15,4.5],[11.25,7.1],[11.35,6.0],[11.45,4.8],[11.55,8.2],[11.65,5.5],[11.75,4.4],[11.85,6.9],[11.95,5.1],[12.05,7.7],
[12.15,4.6],[12.25,6.3],[12.35,8.7],[12.45,5.3],[12.55,4.5],[12.65,7.0],[12.75,5.8],[12.85,4.4],[12.95,6.5],[13.05,8.3],[13.15,5.0],[13.25,4.6],
[13.35,7.4],[13.45,5.7],[13.55,4.3],[13.65,6.6],[13.75,8.8],[13.85,5.4],[13.95,4.7],[14.05,7.1],[14.15,5.9],[14.25,4.4],[14.35,6.4],[14.45,8.1],
[14.55,5.2],[14.65,4.6],[14.75,7.3],[14.85,5.6],[14.95,4.4],[15.05,6.8],[15.15,8.6],[15.25,5.1],[15.35,4.7],[15.45,7.0],[15.55,6.1],[15.65,4.5],
[15.75,6.5],[15.85,8.4],[15.95,5.3],[16.05,4.6],[16.15,7.5],[16.25,5.9],[16.35,4.4],[16.45,6.7],[16.55,8.9],[16.65,5.0],[16.75,4.7],[16.85,7.2],
[16.95,5.7],[17.05,4.5],[17.15,6.3],[17.25,8.2],[17.35,5.5],[17.45,4.6],[17.55,7.0],[17.65,5.8],[17.75,4.4],[17.85,6.6],[17.95,8.5],[18.05,5.2],
[18.15,4.8],[18.25,7.3],[18.35,6.0],[18.45,4.5],[18.55,6.9],[18.65,8.0],[18.75,5.4],[18.85,4.6],[18.95,7.6],[19.05,5.0],[19.15,4.4],[19.25,6.4],
[19.35,8.7],[19.45,5.6],
[10.0,6.6],[10.2,5.0],[10.4,7.9],[10.6,4.7],[10.8,6.1],[11.0,7.4],[11.2,5.3],[11.4,6.8],[11.6,4.5],[11.8,7.9],[12.0,6.0],[12.2,5.2],
[12.4,7.2],[12.6,4.8],[12.8,8.0],[13.0,5.5],[13.2,6.9],[13.4,4.6],[13.6,7.8],[13.8,6.2],[14.0,5.0],[14.2,8.3],[14.4,4.9],[14.6,6.7],
[14.8,7.7],[15.0,5.4],[15.2,6.2],[15.4,4.5],[15.6,7.9],[15.8,5.7],[16.0,6.9],[16.2,4.7],[16.4,8.0],[16.6,5.6],[16.8,6.2],[17.0,7.6],
[17.2,4.8],[17.4,6.0],[17.6,8.3],[17.8,5.1],[18.0,6.6],[18.2,9.2],[18.4,5.0],[18.6,7.5],[18.8,10.8],[19.0,6.0],[19.2,8.1],[19.4,10.2]
];

const atcOutliers = [
[20.11,46.65],[9.27,42.12],[14.35,40.71],[12.37,38.73],[13.88,38.73],[10.82,37.31],[16.23,37.45],[16.89,35.19],[12.89,32.78],[13.36,31.22],
[12.89,29.95],[9.74,30.51],[16.93,30.37],[18.06,28.96],[10.63,27.68],[9.69,26.69],[12.32,26.83],[10.40,25.84],[11.24,25.56],[17.26,26.27],
[17.78,27.26],[18.34,27.26],[19.99,26.55],[19.24,25.98],[17.78,25.13],[18.39,25.13],[10.87,24.71],[15.15,25.27],[15.05,24.43],[12.04,24.43],
[16.70,24.14],[14.30,23.29],[13.55,22.58],[10.54,23.15],[10.68,22.44],[11.00,21.88],[11.15,22.30],[11.62,22.58],[11.76,22.16],[12.28,22.16],
[17.92,24.14],[18.11,23.43],[18.01,22.16],[18.53,22.44],[19.10,22.02],[20.51,23.01],[20.46,21.73],[13.93,22.02],[14.96,21.59],[15.57,21.03],
[15.24,20.46],[13.03,21.03],[10.26,21.31],[10.11,19.89],[9.64,19.19],[11.95,20.46],[12.42,20.32],[10.96,21.17],[16.79,19.61],[19.85,19.33],
[19.94,18.48],[15.62,19.19],[15.71,18.62],[15.48,18.62],[10.40,18.48],[13.41,18.34],[14.16,17.91],[10.77,17.20],[9.36,16.21],[11.67,17.77],
[11.85,16.64],[11.19,16.21],[12.89,16.78],[14.63,16.21],[14.77,15.93],[15.76,16.21],[16.32,16.50],[16.98,16.21],[17.22,16.35],[17.45,15.79],
[17.69,16.07],[18.58,17.20],[17.59,15.08],[18.44,15.08],[20.46,15.08],[22.30,14.09],[13.59,14.65],[13.36,15.08],[13.08,15.08],[11.52,14.51],
[10.02,14.23],[10.25,13.80],[21.73,10.12],[21.45,5.10],[20.79,12.67],[20.65,9.13],[20.32,9.13],[20.13,5.31],[20.04,3.75],[20.65,4.32],
[20.18,1.63],[8.37,4.32],[8.37,2.48],[8.94,5.17],[9.36,12.10],[9.41,10.27],[9.88,10.97],[10.11,10.41],[9.27,8.57],[9.45,8.28],
[20.3,11.6],[20.5,11.9],[20.6,7.0],[20.9,9.2],[20.2,13.8],[19.6,14.0],[19.3,13.9],[16.5,13.2],[17.2,13.4],[17.9,12.5],
[12.1,13.3],[11.3,13.9],[14.0,13.1],[15.9,14.3],[18.2,14.5]
];

// ---- Chart ----
const FONT = '"Liberation Sans", Arial, sans-serif';
const chart = echarts.init(document.getElementById('c'), null, {renderer: 'canvas'});

function xAxisCfg(gi) {
  return {
    type: 'value', gridIndex: gi, min: xTicks[0], max: xTicks[xTicks.length - 1], interval: xTicks[1] - xTicks[0],
    axisLine: {show: true, onZero: false, lineStyle: {color: '#000', width: 2}},
    axisTick: {show: true, length: 7, lineStyle: {color: '#000', width: 2}},
    axisLabel: {color: '#000', fontSize: 17, fontWeight: 'bold', fontFamily: FONT, margin: 16},
    splitLine: {show: false}
  };
}
function yAxisCfg(gi, ticks, step, minorSplit, extra) {
  return {
    type: 'value', gridIndex: gi, min: 0, max: ticks[ticks.length - 1] + extra, interval: step,
    axisLine: {show: true, onZero: false, lineStyle: {color: '#000', width: 2}},
    axisTick: {show: true, length: 6, lineStyle: {color: '#000', width: 2}},
    minorTick: {show: true, splitNumber: minorSplit, length: 6, lineStyle: {color: '#000', width: 2}},
    axisLabel: {color: '#000', fontSize: 17, fontWeight: 'bold', fontFamily: FONT, margin: 11,
      formatter: v => ticks.indexOf(v) >= 0 ? String(v) : ''},
    splitLine: {show: false}, minorSplitLine: {show: false}
  };
}

function titleText(x, y, t) {
  const m = t.match(/^(.*?)(rne)(.*)$/);
  return {type: 'text', x: x, y: y, silent: true,
    style: {text: '{a|' + m[1] + '}{i|' + m[2] + '}{a|' + m[3] + '}', fill: '#000', fontSize: 20, fontFamily: FONT,
      align: 'center', verticalAlign: 'middle',
      rich: {a: {fontSize: 20, fontFamily: FONT, color: '#000'},
             i: {fontSize: 20, fontFamily: FONT, fontStyle: 'italic', color: '#000'}}}};
}
function statText(x, y, lines) {
  return [
    {type: 'text', x: x, y: y, silent: true,
      style: {text: lines[0], fill: '#000', fontSize: 16, fontFamily: FONT, align: 'left', verticalAlign: 'middle'}},
    {type: 'text', x: x, y: y + 17, silent: true,
      style: {text: '{i|' + lines[1].charAt(0) + '}{n|' + lines[1].slice(1) + '}', fill: '#000', fontSize: 16, fontFamily: FONT,
        align: 'left', verticalAlign: 'middle',
        rich: {i: {fontSize: 16, fontFamily: FONT, fontStyle: 'italic', color: '#000'},
               n: {fontSize: 16, fontFamily: FONT, color: '#000'}}}}
  ];
}
function xName(x, y) {
  return {type: 'text', x: x, y: y, silent: true,
    style: {text: '{a|Log}{s|2}{a| mRNA abundance}', fill: '#000', fontSize: 20, fontFamily: FONT,
      align: 'center', verticalAlign: 'middle',
      rich: {a: {fontSize: 20, fontFamily: FONT, color: '#000', lineHeight: 28, verticalAlign: 'middle'},
             s: {fontSize: 13, fontFamily: FONT, color: '#000', lineHeight: 28, verticalAlign: 'bottom'}}}};
}
function yName(x, y) {
  return {type: 'text', x: x, y: y, rotation: Math.PI / 2, silent: true,
    style: {text: 'Half-life (minutes)', fill: '#000', fontSize: 20, fontFamily: FONT, align: 'center', verticalAlign: 'middle'}};
}

const DOT = 3.8;
const option = {
  animation: false,
  backgroundColor: '#fff',
  grid: [
    {left: 63, top: 78, width: 355, height: 237},
    {left: 564, top: 78, width: 355, height: 236}
  ],
  xAxis: [xAxisCfg(0), xAxisCfg(1)],
  yAxis: [yAxisCfg(0, noAtcYTicks, 5, 5, 0), yAxisCfg(1, atcYTicks, 10, 5, 10)],
  series: [
    {type: 'scatter', xAxisIndex: 0, yAxisIndex: 0, data: noAtcCore.concat(noAtcDense, noAtcUpper, noAtcOutliers),
      symbol: 'circle', symbolSize: DOT, itemStyle: {color: '#000'}, silent: true, clip: false, large: false},
    {type: 'scatter', xAxisIndex: 1, yAxisIndex: 1, data: atcCore.concat(atcDense, atcMid, atcOutliers),
      symbol: 'circle', symbolSize: DOT, itemStyle: {color: '#000'}, silent: true, clip: false, large: false}
  ],
  graphic: [
    titleText(216, 19, noAtcTitle),
    titleText(722, 19, atcTitle),
    ...statText(288, 60, noAtcStats),
    ...statText(809, 60, atcStats),
    yName(22, 193),
    yName(510, 193),
    xName(231, 377),
    xName(712, 374)
  ]
};
chart.setOption(option);
</script>
</body>
</html>
